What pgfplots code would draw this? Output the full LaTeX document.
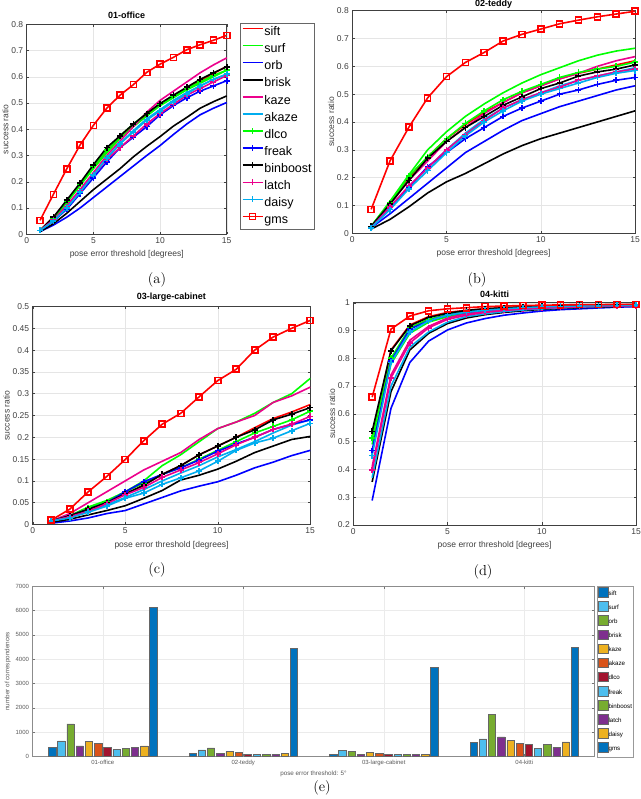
\documentclass[border=0pt]{standalone}
\usepackage{pgfplots}
\pgfplotsset{compat=1.18}
\usepackage{pgfplotstable}
\usepackage{fontspec}
\setsansfont{Liberation Sans}

\definecolor{c1}{HTML}{0072BD}
\definecolor{c2}{HTML}{4DBEEE}
\definecolor{c3}{HTML}{77AC30}
\definecolor{c4}{HTML}{7E2F8E}
\definecolor{c5}{HTML}{EDB120}
\definecolor{c6}{HTML}{D95319}
\definecolor{c7}{HTML}{A2142F}

\pgfplotstableread{
x sift surf orb brisk kaze akaze dlco freak binboost latch daisy gms
1 .015 .015 .010 .010 .015 .015 .015 .015 .015 .015 .015 .053
2 .065 .060 .035 .040 .055 .050 .060 .050 .065 .055 .050 .152
3 .125 .120 .065 .080 .110 .100 .125 .095 .130 .105 .100 .249
4 .190 .185 .100 .125 .170 .160 .190 .155 .195 .165 .160 .340
5 .255 .250 .140 .170 .235 .225 .260 .215 .265 .225 .225 .415
6 .315 .310 .180 .210 .300 .290 .320 .275 .330 .285 .290 .480
7 .370 .365 .220 .250 .355 .345 .375 .330 .375 .330 .345 .530
8 .415 .410 .260 .295 .410 .395 .420 .370 .420 .375 .390 .570
9 .455 .450 .300 .335 .465 .440 .460 .410 .460 .420 .435 .617
10 .495 .490 .338 .372 .510 .475 .495 .455 .498 .460 .470 .648
11 .525 .520 .380 .412 .545 .510 .525 .490 .530 .495 .505 .674
12 .555 .550 .420 .445 .580 .540 .555 .520 .560 .530 .535 .703
13 .585 .575 .455 .480 .615 .565 .580 .545 .590 .555 .565 .722
14 .612 .600 .480 .505 .645 .590 .605 .565 .615 .580 .590 .739
15 .640 .625 .502 .527 .672 .610 .625 .585 .638 .605 .610 .758
}\tabA

\pgfplotstableread{
x sift surf orb brisk kaze akaze dlco freak binboost latch daisy gms
1 .025 .025 .020 .015 .020 .020 .025 .020 .025 .020 .020 .086
2 .110 .115 .070 .050 .105 .090 .110 .095 .105 .095 .085 .260
3 .200 .210 .125 .095 .190 .165 .205 .165 .190 .170 .160 .381
4 .275 .300 .180 .145 .260 .235 .275 .240 .270 .235 .225 .487
5 .340 .365 .235 .185 .330 .300 .340 .290 .330 .300 .290 .563
6 .390 .420 .290 .215 .380 .360 .395 .340 .380 .355 .350 .614
7 .435 .465 .330 .250 .430 .410 .440 .380 .420 .405 .400 .650
8 .470 .505 .370 .285 .470 .450 .480 .420 .460 .450 .440 .691
9 .505 .540 .405 .315 .505 .480 .510 .450 .490 .480 .475 .715
10 .530 .570 .430 .340 .530 .505 .535 .475 .520 .505 .500 .734
11 .555 .595 .455 .360 .555 .530 .560 .500 .540 .525 .520 .753
12 .575 .620 .475 .380 .575 .550 .578 .515 .565 .550 .540 .766
13 .590 .640 .495 .400 .600 .565 .590 .535 .580 .565 .560 .778
14 .605 .655 .515 .420 .620 .580 .600 .550 .590 .580 .575 .788
15 .620 .665 .530 .440 .635 .595 .615 .560 .605 .590 .585 .798
}\tabB

\pgfplotstableread{
x sift surf orb brisk kaze akaze dlco freak binboost latch daisy gms
1 .008 .008 .003 .005 .008 .008 .008 .008 .008 .008 .008 .010
2 .020 .020 .008 .012 .025 .018 .020 .020 .020 .018 .015 .035
3 .035 .040 .015 .022 .050 .030 .038 .035 .035 .030 .028 .075
4 .050 .055 .025 .032 .075 .045 .052 .050 .050 .048 .042 .110
5 .070 .075 .032 .043 .100 .062 .075 .075 .070 .068 .060 .149
6 .090 .100 .047 .060 .125 .080 .095 .098 .090 .085 .072 .192
7 .115 .135 .062 .078 .145 .100 .115 .115 .115 .108 .092 .230
8 .135 .160 .077 .102 .165 .118 .130 .130 .135 .125 .107 .255
9 .160 .190 .088 .113 .195 .135 .150 .148 .160 .142 .123 .293
10 .180 .220 .098 .127 .220 .155 .170 .168 .180 .162 .145 .330
11 .200 .235 .113 .145 .235 .172 .190 .185 .200 .183 .170 .356
12 .222 .255 .130 .165 .250 .190 .210 .200 .217 .200 .187 .400
13 .243 .280 .143 .180 .280 .210 .225 .218 .240 .218 .198 .430
14 .258 .300 .158 .195 .295 .228 .240 .230 .253 .230 .215 .450
15 .275 .335 .170 .202 .315 .240 .260 .240 .268 .248 .232 .468
}\tabC

\pgfplotstableread{
x sift surf orb brisk kaze akaze dlco freak binboost latch daisy gms
1 .520 .490 .288 .355 .410 .370 .514 .468 .537 .397 .450 .660
2 .830 .780 .620 .680 .740 .700 .800 .790 .827 .730 .785 .905
3 .920 .890 .785 .830 .865 .840 .910 .905 .917 .855 .895 .952
4 .950 .930 .862 .890 .915 .895 .940 .935 .947 .910 .935 .971
5 .965 .950 .902 .925 .945 .930 .957 .955 .962 .940 .955 .978
6 .973 .962 .927 .945 .960 .950 .968 .966 .972 .955 .966 .982
7 .978 .970 .943 .957 .968 .960 .975 .974 .978 .965 .973 .986
8 .982 .976 .955 .965 .974 .968 .980 .979 .982 .972 .978 .988
9 .985 .980 .963 .971 .978 .974 .984 .983 .985 .977 .982 .990
10 .987 .983 .970 .976 .981 .978 .986 .985 .987 .980 .985 .991
11 .988 .985 .975 .979 .984 .981 .988 .987 .989 .983 .987 .992
12 .989 .987 .978 .982 .986 .984 .989 .988 .990 .985 .988 .993
13 .990 .988 .981 .984 .988 .986 .990 .989 .991 .987 .989 .993
14 .991 .989 .984 .986 .989 .988 .991 .990 .992 .988 .990 .994
15 .992 .990 .986 .988 .990 .989 .992 .991 .993 .989 .991 .994
}\tabD

\pgfplotstableread{
g sift surf orb brisk kaze akaze dlco freak binboost latch daisy gms
1 390 645 1345 440 618 535 370 300 330 384 440 6135
2 137 275 357 137 220 192 110 96 96 96 124 4433
3 110 260 206 110 192 124 96 82 82 96 110 3665
4 590 727 1730 810 672 535 494 330 520 384 604 4475
}\tabE

\newcommand{\allcurves}[1]{%
\addplot[red] table[x=x,y=sift]{#1};
\addplot[green] table[x=x,y=surf]{#1};
\addplot[blue] table[x=x,y=orb]{#1};
\addplot[black] table[x=x,y=brisk]{#1};
\addplot[magenta] table[x=x,y=kaze]{#1};
\addplot[cyan] table[x=x,y=akaze]{#1};
\addplot[green,mark=+] table[x=x,y=dlco]{#1};
\addplot[blue,mark=+] table[x=x,y=freak]{#1};
\addplot[black,mark=+] table[x=x,y=binboost]{#1};
\addplot[magenta,mark=+] table[x=x,y=latch]{#1};
\addplot[cyan,mark=+] table[x=x,y=daisy]{#1};
\addplot[red,mark=square] table[x=x,y=gms]{#1};
}

\pgfplotsset{
  curve/.style={
    scale only axis, clip=false,
    xmin=0, xmax=15, xtick={0,5,10,15},
    grid=major, grid style={black!10, line width=0.4pt},
    axis line style={black!75, line width=0.5pt},
    tick align=inside, major tick length=2.5pt,
    tick style={black!75, line width=0.4pt},
    /pgf/number format/assume math mode=true,
    scaled y ticks=false,
    yticklabel style={/pgf/number format/fixed, /pgf/number format/precision=2},
    ticklabel style={font=\sffamily\fontsize{8.5}{9}\selectfont, text=black!75},
    label style={font=\sffamily\fontsize{8.5}{9}\selectfont, text=black!75},
    ylabel shift=-4pt,
    title style={font=\sffamily\bfseries\fontsize{9}{10}\selectfont, yshift=-4pt},
    xlabel={pose error threshold [degrees]},
    ylabel={success ratio},
    every axis plot/.append style={line width=1.6pt, mark size=3pt, mark options={solid}},
  },
}

\begin{document}
\begin{tikzpicture}
\useasboundingbox (0pt,0pt) rectangle (640pt,799pt);

% (a)
\begin{axis}[curve, at={(26.7pt,564.7pt)}, anchor=south west,
  width=200pt, height=210pt, ymin=0, ymax=0.8, ytick={0,0.1,...,0.8},
  title={01-office},
  legend style={at={(1.067,1.004)}, anchor=north west, draw=black!60,
    font=\sffamily\fontsize{12.5}{13}\selectfont, inner sep=1.5pt, row sep=2.6pt,
    nodes={inner sep=1pt, text height=9.5pt, text depth=3pt}},
  legend cell align=left,
  legend image code/.code={\draw[mark repeat=2,mark phase=2,#1] plot coordinates {(0pt,4pt) (10pt,4pt) (20pt,4pt)};},
]
\allcurves{\tabA}
\legend{sift,surf,orb,brisk,kaze,akaze,dlco,freak,binboost,latch,daisy,gms}
\end{axis}

% (b)
\begin{axis}[curve, at={(352.3pt,565.7pt)}, anchor=south west,
  width=282.7pt, height=222.6pt, ymin=0, ymax=0.8, ytick={0,0.1,...,0.8},
  title={02-teddy}, title style={yshift=-3pt}]
\allcurves{\tabB}
\end{axis}

% (c)
\begin{axis}[curve, at={(32.7pt,274.5pt)}, anchor=south west,
  width=277.5pt, height=218pt, ymin=0, ymax=0.5, ytick={0,0.05,...,0.5},
  title={03-large-cabinet}]
\allcurves{\tabC}
\end{axis}

% (d)
\begin{axis}[curve, at={(353.3pt,274pt)}, anchor=south west,
  width=282.7pt, height=222.3pt, ymin=0.2, ymax=1, ytick={0.2,0.3,...,1},
  title={04-kitti}]
\allcurves{\tabD}
\end{axis}

% (e)
\begin{axis}[at={(32.5pt,42.3pt)}, anchor=south west, scale only axis,
  width=562pt, height=170.7pt,
  xmin=0.5, xmax=4.5, ymin=0, ymax=7000, ytick={0,1000,...,7000},
  xtick={1,2,3,4}, xticklabels={01-office,02-teddy,03-large-cabinet,04-kitti},
  ybar=1.9pt, bar width=7.3pt,
  grid=major, grid style={black!8, line width=0.4pt},
  axis line style={black!45, line width=0.5pt},
  tick align=inside, major tick length=2.5pt,
  tick style={black!55, line width=0.4pt},
  /pgf/number format/assume math mode=true,
  scaled y ticks=false,
  yticklabel style={/pgf/number format/fixed, /pgf/number format/set thousands separator={}},
  ticklabel style={font=\sffamily\fontsize{6}{7}\selectfont, text=black!65},
  label style={font=\sffamily\fontsize{6.3}{7}\selectfont, text=black!65},
  ylabel={number of correspondences},
  ylabel shift=-2pt,
  xlabel={pose error threshold: 5°},
  xlabel style={yshift=2pt},
  legend style={at={(1.004,1)}, anchor=north west, draw=black!40,
    font=\sffamily\fontsize{6.2}{6.5}\selectfont, inner sep=1pt, row sep=0.45pt,
    nodes={inner sep=0.5pt, text height=7pt, text depth=5pt}},
  legend cell align=left,
  legend image code/.code={\draw[#1] (0pt,-2.7pt) rectangle (9.6pt,6.9pt);},
  every axis plot/.append style={draw=black!60, line width=0.5pt},
]
\addplot[fill=c1] table[x=g,y=sift]{\tabE};
\addplot[fill=c2] table[x=g,y=surf]{\tabE};
\addplot[fill=c3] table[x=g,y=orb]{\tabE};
\addplot[fill=c4] table[x=g,y=brisk]{\tabE};
\addplot[fill=c5] table[x=g,y=kaze]{\tabE};
\addplot[fill=c6] table[x=g,y=akaze]{\tabE};
\addplot[fill=c7] table[x=g,y=dlco]{\tabE};
\addplot[fill=c2] table[x=g,y=freak]{\tabE};
\addplot[fill=c3] table[x=g,y=binboost]{\tabE};
\addplot[fill=c4] table[x=g,y=latch]{\tabE};
\addplot[fill=c5] table[x=g,y=daisy]{\tabE};
\addplot[fill=c1] table[x=g,y=gms]{\tabE};
\legend{sift,surf,orb,brisk,kaze,akaze,dlco,freak,binboost,latch,daisy,gms}
\end{axis}

\node[font=\fontsize{14.5}{16}\selectfont] at (157pt,519pt) {(a)};
\node[font=\fontsize{14.5}{16}\selectfont] at (477pt,519pt) {(b)};
\node[font=\fontsize{14.5}{16}\selectfont] at (157pt,229pt) {(c)};
\node[font=\fontsize{14.5}{16}\selectfont] at (483pt,227pt) {(d)};
\node[font=\fontsize{14.5}{16}\selectfont] at (322pt,11pt) {(e)};
\end{tikzpicture}
\end{document}
